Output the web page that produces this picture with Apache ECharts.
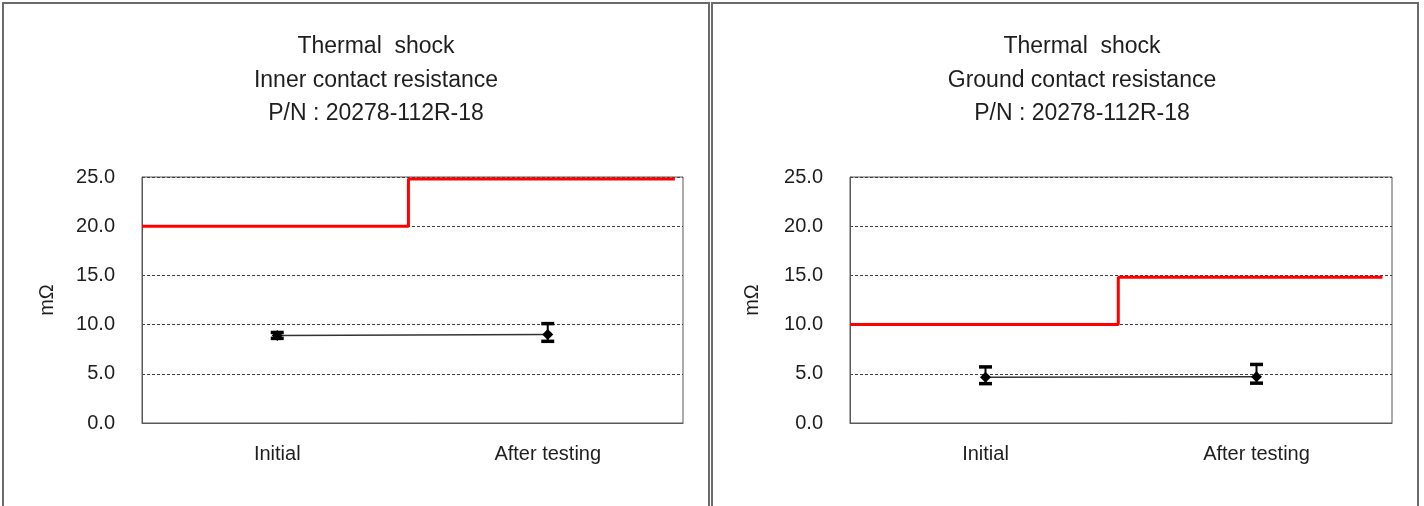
<!DOCTYPE html>
<html>
<head>
<meta charset="utf-8">
<script src="https://cdn.jsdelivr.net/npm/echarts@6/dist/echarts.min.js"></script>
<style>
html,body{margin:0;padding:0;background:#fff;}
#c{width:1424px;height:506px;}
</style>
</head>
<body>
<div id="c"></div>
<script>
// ---- data ----
const categories = ['Initial', 'After testing'];
const titles = [
  'Thermal  shock\nInner contact resistance\nP/N : 20278-112R-18',
  'Thermal  shock\nGround contact resistance\nP/N : 20278-112R-18'
];
const yName = 'mΩ';
const innerMean = [8.9, 9.0];
const innerLow = [8.6, 8.3];
const innerHigh = [9.2, 10.1];
const groundMean = [4.65, 4.7];
const groundLow = [4.0, 4.05];
const groundHigh = [5.7, 5.95];
const innerLimitX = [0, 0.985, 0.985, 1.97];
const innerLimitY = [20, 20, 24.8, 24.8];
const groundLimitX = [0, 0.99, 0.99, 1.965];
const groundLimitY = [10, 10, 14.8, 14.8];

const FONT = '"Liberation Sans", Arial, sans-serif';
const TXT = '#1e1e1e';

const chart = echarts.init(document.getElementById('c'), null, {renderer: 'canvas'});

function zip(a, b) { return a.map((v, i) => [v, b[i]]); }
function errData(lo, hi) { return lo.map((v, i) => [i, v, hi[i]]); }

function errRender(params, api) {
  const x = api.value(0);
  const p1 = api.coord([x, api.value(1)]);
  const p2 = api.coord([x, api.value(2)]);
  const w = 6.5;
  const st = {stroke: '#000', lineWidth: 2};
  const cs = {stroke: '#000', lineWidth: 3.5};
  return {
    type: 'group',
    children: [
      {type: 'line', shape: {x1: p1[0], y1: p1[1], x2: p2[0], y2: p2[1]}, style: st},
      {type: 'line', shape: {x1: p1[0] - w, y1: p1[1], x2: p1[0] + w, y2: p1[1]}, style: cs},
      {type: 'line', shape: {x1: p2[0] - w, y1: p2[1], x2: p2[0] + w, y2: p2[1]}, style: cs}
    ]
  };
}

const grids = [
  {left: 142, top: 177, width: 541, height: 246},
  {left: 850, top: 177, width: 542, height: 246}
];

const yAxes = grids.map((g, i) => ({
  type: 'value', gridIndex: i, min: 0, max: 25, interval: 5,
  name: yName, nameLocation: 'middle', nameRotate: 90, nameGap: i === 0 ? 85 : 88,
  nameTextStyle: {fontFamily: FONT, fontSize: 20, color: TXT},
  axisLine: {show: true, lineStyle: {color: '#595959', width: 1}},
  axisTick: {show: false},
  axisLabel: {fontFamily: FONT, fontSize: 20, color: TXT, margin: 27,
    formatter: v => v.toFixed(1)},
  splitLine: {show: true, lineStyle: {color: '#404040', type: [3, 2], width: 1}}
}));

const xAxes = [];
grids.forEach((g, i) => {
  xAxes.push({
    type: 'category', gridIndex: i, data: categories, boundaryGap: true,
    axisLine: {show: true, lineStyle: {color: '#595959', width: 1}},
    axisTick: {show: false},
    axisLabel: {fontFamily: FONT, fontSize: 20, color: TXT, margin: 21},
    splitLine: {show: false}
  });
});
grids.forEach((g, i) => {
  xAxes.push({
    type: 'value', gridIndex: i, min: 0, max: 2, show: false
  });
});

const option = {
  backgroundColor: '#fff',
  animation: false,
  graphic: [
    {type: 'rect', shape: {x: 3, y: 3, width: 706, height: 540},
      style: {fill: 'none', stroke: '#6b6b6b', lineWidth: 2}, z: 100},
    {type: 'rect', shape: {x: 712, y: 3, width: 706, height: 540},
      style: {fill: 'none', stroke: '#6b6b6b', lineWidth: 2}, z: 100}
  ],
  title: [
    {text: titles[0], left: 371, top: 25, textAlign: 'center',
      textStyle: {fontFamily: FONT, fontSize: 23, fontWeight: 'normal', color: TXT, lineHeight: 33.5}},
    {text: titles[1], left: 1077, top: 25, textAlign: 'center',
      textStyle: {fontFamily: FONT, fontSize: 23, fontWeight: 'normal', color: TXT, lineHeight: 33.5}}
  ],
  grid: grids.map(g => Object.assign({show: true, borderColor: '#595959', borderWidth: 1, backgroundColor: 'transparent'}, g)),
  xAxis: xAxes,
  yAxis: yAxes,
  series: [
    {type: 'line', xAxisIndex: 2, yAxisIndex: 0, data: zip(innerLimitX, innerLimitY),
      symbol: 'none', lineStyle: {color: '#ff0000', width: 3}, z: 3},
    {type: 'line', xAxisIndex: 3, yAxisIndex: 1, data: zip(groundLimitX, groundLimitY),
      symbol: 'none', lineStyle: {color: '#ff0000', width: 3}, z: 3},
    {type: 'line', xAxisIndex: 0, yAxisIndex: 0, data: innerMean,
      symbol: 'diamond', symbolSize: 11, itemStyle: {color: '#000'},
      lineStyle: {color: '#333', width: 1.5}, z: 4},
    {type: 'line', xAxisIndex: 1, yAxisIndex: 1, data: groundMean,
      symbol: 'diamond', symbolSize: 11, itemStyle: {color: '#000'},
      lineStyle: {color: '#333', width: 1.5}, z: 4},
    {type: 'custom', xAxisIndex: 0, yAxisIndex: 0, data: errData(innerLow, innerHigh),
      renderItem: errRender, z: 5},
    {type: 'custom', xAxisIndex: 1, yAxisIndex: 1, data: errData(groundLow, groundHigh),
      renderItem: errRender, z: 5}
  ]
};
chart.setOption(option);
</script>
</body>
</html>
